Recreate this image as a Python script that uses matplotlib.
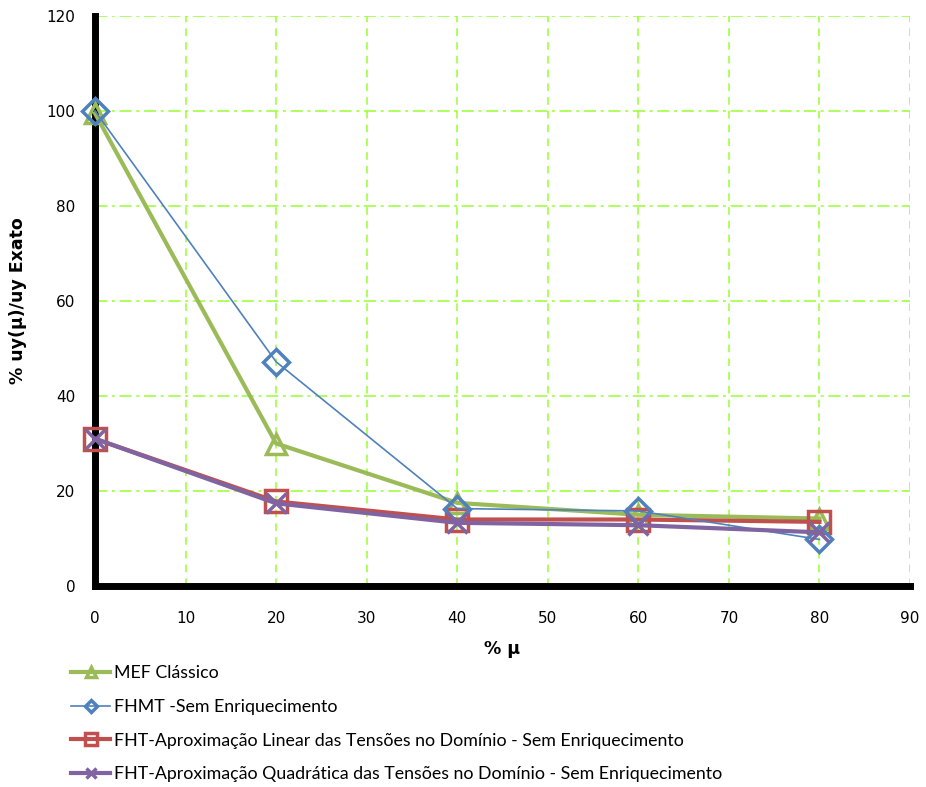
import matplotlib
matplotlib.use("Agg")
import matplotlib.pyplot as plt

x = [0, 20, 40, 60, 80]
mef = [99.5, 30.0, 17.5, 15.0, 14.2]
fhmt = [100.0, 47.2, 16.3, 15.8, 9.8]
fht_lin = [31.0, 17.8, 14.0, 14.0, 13.5]
fht_quad = [31.0, 17.4, 13.3, 12.8, 11.3]
labels = ["MEF Clássico", "FHMT -Sem Enriquecimento",
          "FHT-Aproximação Linear das Tensões no Domínio - Sem Enriquecimento",
          "FHT-Aproximação Quadrática das Tensões no Domínio - Sem Enriquecimento"]
xticks = [0, 10, 20, 30, 40, 50, 60, 70, 80, 90]
yticks = [0, 20, 40, 60, 80, 100, 120]

fig = plt.figure(figsize=(9.26, 7.87), dpi=100)
ax = fig.add_axes([95/926, 1-586/787, (910-95)/926, (586-16)/787])

grid_c = '#99ff33'
for xv in xticks[1:]:
    ax.axvline(xv, color=grid_c, lw=1.1, ls=(0, (5, 4)), zorder=0)
for yv in yticks[1:]:
    ax.axhline(yv, color=grid_c, lw=1.1, ls=(0, (8, 3, 2, 3)), zorder=0)

l1, = ax.plot(x, mef, color='#9BBB59', lw=3, marker='^', ms=15, mfc='none', mec='#9BBB59', mew=2.5, zorder=3, clip_on=False)
l2, = ax.plot(x, fhmt, color='#4F81BD', lw=1.2, marker='D', ms=13, mfc='none', mec='#4F81BD', mew=2.5, zorder=4, clip_on=False)
l3, = ax.plot(x, fht_lin, color='#C0504D', lw=3, marker='s', ms=16, mfc='none', mec='#C0504D', mew=2.5, zorder=3, clip_on=False)
l4, = ax.plot(x, fht_quad, color='#8064A2', lw=3, marker='x', ms=15, mfc='none', mec='#8064A2', mew=2.5, zorder=5, clip_on=False)

ax.set_xlim(0, 90)
ax.set_ylim(0, 120)
ax.set_xticks(xticks)
ax.set_yticks(yticks)
ax.tick_params(axis='x', length=0, labelsize=11, pad=18)
ax.tick_params(axis='y', length=0, labelsize=11, pad=14)
for s in ['top', 'right']:
    ax.spines[s].set_visible(False)
for s in ['left', 'bottom']:
    ax.spines[s].set_linewidth(5)
    ax.spines[s].set_color('black')
    ax.spines[s].set_zorder(2)

ax.set_xlabel('% µ', fontsize=12.5, fontweight='bold', labelpad=10)
ax.set_ylabel('% uy(µ)/uy Exato', fontsize=12.5, fontweight='bold', labelpad=14)

leg = fig.legend([l1, l2, l3, l4], labels, loc='upper left', bbox_to_anchor=(55/926, 1-649/787),
                 frameon=False, handlelength=2.2, labelspacing=1.0,
                 handletextpad=0.2, markerscale=0.5, prop={'family': 'Lato', 'size': 12.8})

fig.savefig('out.png', dpi=100)
